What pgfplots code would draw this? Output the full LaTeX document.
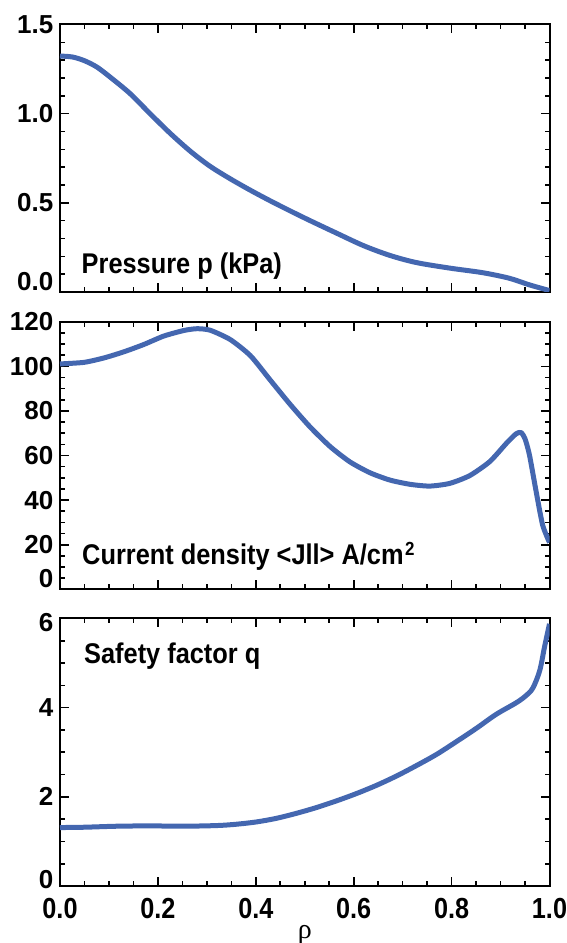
\documentclass[border=0pt]{standalone}
\usepackage{pgfplots}
\pgfplotsset{compat=1.18}
\usepackage{fontspec}
\setmainfont{Liberation Sans}
\newfontfamily\tickfam{Liberation Sans Bold}
\newfontfamily\xtickfam[FakeStretch=0.87]{Liberation Sans Bold}
\newfontfamily\labelfam[FakeStretch=0.89]{Liberation Sans Bold}
\newfontfamily\greekfam{Liberation Serif}

\definecolor{profileblue}{RGB}{68,103,176}

\pgfplotsset{
  profile panel/.style={
    scale only axis,
    width=489.5pt, height=267.5pt,
    xmin=0, xmax=1,
    xtick={0,0.2,0.4,0.6,0.8,1},
    minor x tick num=3,
    tick align=inside, tick pos=both,
    major tick length=9pt, minor tick length=5pt,
    axis line style={line width=2pt},
    every tick/.style={black, line width=1.6pt},
    yticklabel style={font=\tickfam\fontsize{26}{26}\selectfont,
      inner sep=0pt, anchor=east, xshift=-6.5pt},
    xticklabel style={font=\xtickfam\fontsize{29}{29}\selectfont,
      inner sep=0pt, anchor=north, yshift=-12pt},
    clip mode=individual,
  },
  profile curve/.style={profileblue, line width=5pt, smooth, tension=0.5,
    no marks, line join=round},
}
\tikzset{
  panel label/.style={anchor=base west, inner sep=0pt,
    font=\labelfam\fontsize{28.5}{29}\selectfont},
}

% Radial profiles versus normalised radius rho
\pgfplotstableread{
rho    p
0.000  1.323
0.025  1.318
0.049  1.298
0.075  1.262
0.102  1.206
0.143  1.113
0.184  1.000
0.225  0.890
0.266  0.790
0.306  0.706
0.347  0.636
0.388  0.572
0.429  0.512
0.470  0.455
0.511  0.400
0.565  0.330
0.620  0.260
0.674  0.205
0.728  0.165
0.796  0.134
0.864  0.108
0.918  0.077
0.959  0.040
1.000  0.008
}\pressure

\pgfplotstableread{
rho    J
0.000  101.1
0.049  101.8
0.090  103.8
0.130  106.5
0.171  109.8
0.212  113.6
0.253  116.1
0.280  116.9
0.307  116.2
0.348  112.0
0.389  104.8
0.429  94.0
0.470  83.0
0.511  72.8
0.552  64.0
0.592  57.2
0.633  52.3
0.674  49.0
0.715  47.1
0.755  46.3
0.796  47.5
0.837  51.0
0.878  57.3
0.912  65.5
0.932  69.8
0.942  70.3
0.950  67.5
0.959  60.3
0.973  43.5
0.986  28.8
1.000  21.0
}\current

\pgfplotstableread{
rho    q
0.000  1.311
0.049  1.318
0.117  1.341
0.185  1.348
0.253  1.341
0.321  1.356
0.361  1.386
0.402  1.438
0.443  1.520
0.484  1.633
0.524  1.760
0.565  1.910
0.606  2.075
0.647  2.260
0.688  2.470
0.728  2.700
0.769  2.950
0.810  3.240
0.851  3.540
0.891  3.850
0.932  4.110
0.952  4.270
0.966  4.440
0.980  4.830
0.990  5.370
1.000  5.880
}\safety

\begin{document}
\begin{tikzpicture}[x=1pt, y=1pt]
\useasboundingbox (0,0) rectangle (566,943);

% pressure
\begin{axis}[profile panel,
  at={(60pt,651pt)}, anchor=south west,
  ymin=0, ymax=1.5,
  ytick={0,0.5,1,1.5},
  yticklabels={\raisebox{10pt}[\height][\depth]{0.0},0.5,1.0,1.5},
  minor y tick num=4,
  xticklabels={},
]
\addplot[profile curve] table[x=rho, y=p] {\pressure};
\node[panel label] at (rel axis cs:0.044,0.069) {Pressure p (kPa)};
\end{axis}

% current density
\begin{axis}[profile panel,
  at={(60pt,353.7pt)}, anchor=south west,
  ymin=0, ymax=120,
  ytick={0,20,40,60,80,100,120},
  yticklabels={\raisebox{10.5pt}[\height][\depth]{0},20,40,60,80,100,120},
  minor y tick num=3,
  xticklabels={},
]
\addplot[profile curve, tension=0.4] table[x=rho, y=J] {\current};
\node[panel label] at (rel axis cs:0.045,0.091)
  {Current density <Jll> A/cm\hspace{1.5pt}\raisebox{9pt}{\labelfam\fontsize{19}{19}\selectfont 2}};
\end{axis}

% safety factor
\begin{axis}[profile panel,
  at={(60pt,57pt)}, anchor=south west,
  ymin=0, ymax=6,
  ytick={0,2,4,6},
  yticklabels={\raisebox{6.5pt}[\height][\depth]{0},2,4,\raisebox{-4pt}[\height][\depth]{6}},
  minor y tick num=3,
  xticklabels={0.0,0.2,0.4,0.6,0.8,1.0},
  xlabel={ρ},
  xlabel style={at={(axis description cs:0.5,0)}, anchor=north,
    inner sep=0pt, yshift=-39pt, font=\greekfam\fontsize{28}{28}\selectfont},
]
\addplot[profile curve] table[x=rho, y=q] {\safety};
\node[panel label] at (rel axis cs:0.049,0.8325) {Safety factor q};
\end{axis}
\end{tikzpicture}
\end{document}
